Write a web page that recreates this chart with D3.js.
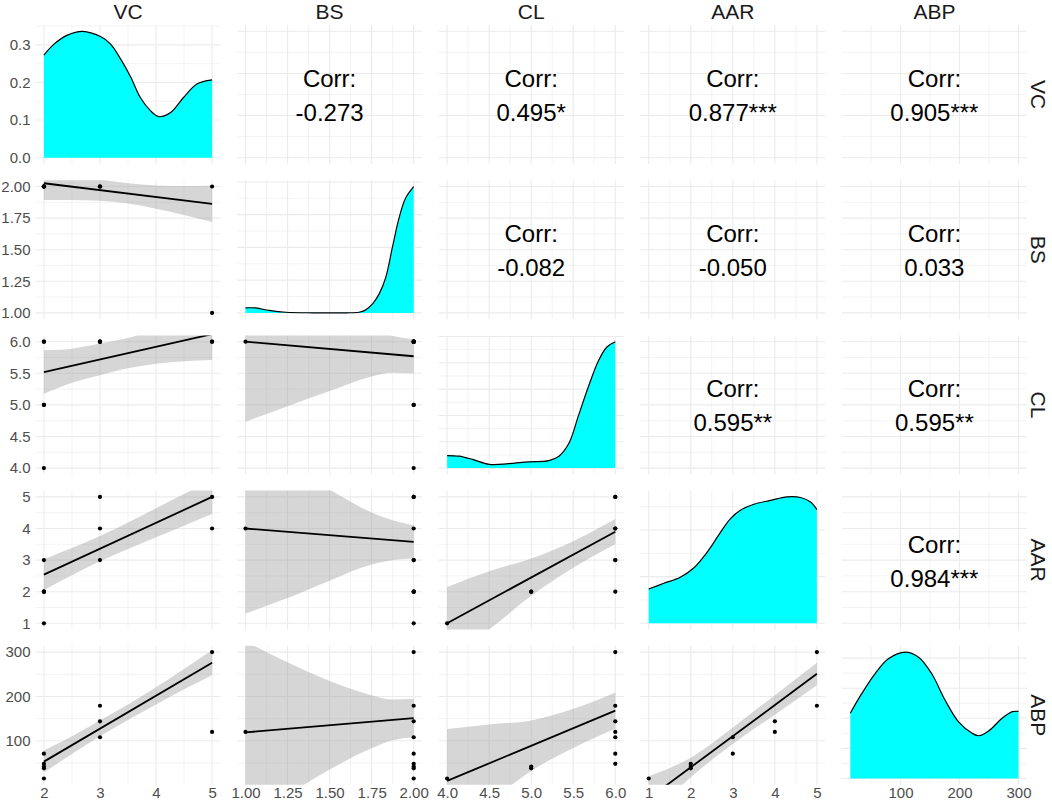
<!DOCTYPE html>
<html>
<head>
<meta charset="utf-8">
<script src="https://cdn.jsdelivr.net/npm/d3@7"></script>
<style>
  body { margin: 0; background: #fff; }
  text { font-family: "Liberation Sans", Arial, sans-serif; }
</style>
</head>
<body>
<svg id="chart" width="1052" height="803"></svg>
<script>
// variables of the pairs plot
const variables = ['VC', 'BS', 'CL', 'AAR', 'ABP'];

// observations, one value per row
const vc  = [5, 5, 3, 3, 3, 2, 2, 2, 2, 2];
const bs  = [2, 1, 2, 2, 2, 2, 2, 2, 2, 2];
const cl  = [6, 6, 6, 6, 6, 6, 6, 5, 4, 5];
const aar = [5, 4, 5, 4, 3, 3, 2, 2, 1, 2];
const abp = [300, 120, 179, 144, 108, 71, 48, 38, 15, 42];

// axis ticks and their labels
const vcTicks = [2, 3, 4, 5];
const vcLabels = ['2', '3', '4', '5'];
const bsTicks = [1, 1.25, 1.5, 1.75, 2];
const bsLabels = ['1.00', '1.25', '1.50', '1.75', '2.00'];
const clTicks = [4, 4.5, 5, 5.5, 6];
const clLabels = ['4.0', '4.5', '5.0', '5.5', '6.0'];
const aarTicks = [1, 2, 3, 4, 5];
const aarLabels = ['1', '2', '3', '4', '5'];
const abpTicks = [100, 200, 300];
const abpLabels = ['100', '200', '300'];

// density curves on the diagonal: [value, density]
const densVC = [[2.0, 0.273], [2.18, 0.302], [2.42, 0.326], [2.69, 0.336], [3.01, 0.322], [3.19, 0.302],
  [3.37, 0.262], [3.55, 0.214], [3.72, 0.160], [3.90, 0.125], [4.05, 0.109], [4.26, 0.120],
  [4.49, 0.160], [4.73, 0.196], [5.0, 0.207]];
const densBS = [[1.0, 0.153], [1.06, 0.150], [1.14, 0.076], [1.24, 0.02], [1.40, 0.002], [1.60, 0.002],
  [1.675, 0.02], [1.71, 0.076], [1.754, 0.267], [1.794, 0.573], [1.833, 1.07], [1.873, 1.99],
  [1.913, 2.90], [1.952, 3.51], [2.0, 3.86]];
const densCL = [[4.0, 0.238], [4.14, 0.226], [4.30, 0.166], [4.50, 0.071], [4.73, 0.083], [4.97, 0.119],
  [5.21, 0.143], [5.33, 0.226], [5.45, 0.475], [5.56, 0.986], [5.68, 1.544], [5.80, 2.04],
  [5.90, 2.30], [6.0, 2.40]];
const densAAR = [[1.0, 0.0735], [1.36, 0.0858], [1.75, 0.0987], [2.07, 0.1185], [2.39, 0.1525],
  [2.71, 0.1954], [2.94, 0.224], [3.18, 0.2424], [3.5, 0.2553], [3.9, 0.2635], [4.29, 0.271],
  [4.61, 0.2697], [4.85, 0.260], [5.0, 0.2438]];
const densABP = [[15, 0.00217], [34, 0.00281], [56.8, 0.00348], [79.5, 0.00398], [108, 0.0042],
  [130.7, 0.00403], [153, 0.00348], [176, 0.00259], [198.9, 0.00187], [221.6, 0.0015],
  [233, 0.00142], [250, 0.00159], [272.7, 0.00201], [289.8, 0.00222], [300, 0.00223]];

// density axis breaks
const densTicksVC = [0, 0.1, 0.2, 0.3];
const densLabelsVC = ['0.0', '0.1', '0.2', '0.3'];
const densTicksBS = [0, 1, 2, 3, 4];
const densTicksCL = [0, 0.5, 1, 1.5, 2, 2.5];
const densTicksAAR = [0, 0.1, 0.2];
const densTicksABP = [0, 0.001, 0.002, 0.003, 0.004];

// correlations in the upper triangle
const corrRows = [0, 0, 0, 0, 1, 1, 1, 2, 2, 3];
const corrCols = [1, 2, 3, 4, 2, 3, 4, 3, 4, 4];
const corrLabels = ['-0.273', '0.495*', '0.877***', '0.905***', '-0.082', '-0.050', '0.033',
  '0.595**', '0.595**', '0.984***'];

// linear fits [x, y] and confidence bands [x, lo, hi] in the lower triangle
const fitBSVC = [[2, 2.026], [5, 1.863]];
const bandBSVC = [[2, 1.894, 2.158], [2.5, 1.894, 2.104], [3, 1.887, 2.057], [3.5, 1.865, 2.025],
  [4, 1.825, 2.009], [4.5, 1.775, 2.005], [5, 1.719, 2.007]];
const fitCLVC = [[2, 5.52], [5, 6.12]];
const bandCLVC = [[2, 5.175, 5.865], [2.5, 5.35, 5.89], [3, 5.47, 5.97], [3.5, 5.58, 6.06],
  [4, 5.65, 6.19], [4.5, 5.69, 6.35], [5, 5.71, 6.53]];
const fitAARVC = [[2, 2.54], [5, 5.0]];
const bandAARVC = [[2, 2.05, 3.03], [2.5, 2.52, 3.38], [3, 2.96, 3.76], [3.5, 3.35, 4.19],
  [4, 3.72, 4.64], [4.5, 4.09, 5.09], [5, 4.46, 5.54]];
const fitABPVC = [[2, 53], [5, 276]];
const bandABPVC = [[2, 29, 78], [2.5, 70, 110], [3, 110, 146], [3.5, 147, 182], [4, 182, 221],
  [4.5, 216, 262], [5, 248, 304]];
const fitCLBS = [[1, 6.0], [2, 5.77]];
const bandCLBS = [[1, 4.735, 7.265], [1.25, 4.98, 6.905], [1.5, 5.22, 6.55], [1.75, 5.45, 6.205],
  [1.875, 5.51, 6.09], [2, 5.50, 6.04]];
const fitAARBS = [[1, 4.0], [2, 3.58]];
const bandAARBS = [[1, 1.31, 6.69], [1.25, 1.80, 5.99], [1.5, 2.35, 5.23], [1.75, 2.86, 4.51],
  [1.875, 3.0, 4.265], [2, 3.06, 4.10]];
const fitABPBS = [[1, 119], [2, 151]];
const bandABPBS = [[1, -86, 324], [1.25, -23, 277], [1.5, 35, 235], [1.75, 83, 203],
  [1.875, 101, 193], [2, 108, 194]];
const fitAARCL = [[4, 1.0], [6, 3.9]];
const bandAARCL = [[4, -0.15, 2.15], [4.5, 0.80, 2.65], [5, 1.87, 3.05], [5.5, 2.76, 3.6], [6, 3.5, 4.3]];
const fitABPCL = [[4, 9.5], [6, 168]];
const bandABPCL = [[4, -107, 126.5], [4.5, -39, 137], [5, 32, 146], [5.5, 84, 172], [6, 127, 209]];
const fitABPAAR = [[1, -30], [5, 251]];
const bandABPAAR = [[1, -72, 20], [2, 18, 62], [3, 93, 130], [4, 159, 203], [5, 225, 276]];

// tables built from the arrays above
const obs = [vc, bs, cl, aar, abp];
const ticks = [vcTicks, bsTicks, clTicks, aarTicks, abpTicks];
const tickLabels = [vcLabels, bsLabels, clLabels, aarLabels, abpLabels];
const dens = [densVC, densBS, densCL, densAAR, densABP];
const densTicks = [densTicksVC, densTicksBS, densTicksCL, densTicksAAR, densTicksABP];
const smooths = {
  '1-0': [fitBSVC, bandBSVC], '2-0': [fitCLVC, bandCLVC], '3-0': [fitAARVC, bandAARVC],
  '4-0': [fitABPVC, bandABPVC], '2-1': [fitCLBS, bandCLBS], '3-1': [fitAARBS, bandAARBS],
  '4-1': [fitABPBS, bandABPBS], '3-2': [fitAARCL, bandAARCL], '4-2': [fitABPCL, bandABPCL],
  '4-3': [fitABPAAR, bandABPAAR]
};

// layout
const left0 = 35.5, top0 = 25, panelW = 185, panelH = 139, stepX = 201.6, stepY = 155.2;
const n = variables.length;
const gridColor = '#ebebeb';

const svg = d3.select('#chart');
const defs = svg.append('defs');

const expand = ([a, b]) => { const d = (b - a) * 0.05; return [a - d, b + d]; };
const within = (v, dom) => v >= dom[0] - 1e-9 && v <= dom[1] + 1e-9;
function gridBreaks(majors, dom) {
  const step = majors[1] - majors[0];
  const minors = [majors[0] - step / 2, ...majors.map(m => m + step / 2)];
  return { major: majors.filter(v => within(v, dom)), minor: minors.filter(v => within(v, dom)) };
}

const colX = variables.map((v, c) => d3.scaleLinear()
  .domain(expand(d3.extent(obs[c])))
  .range([left0 + c * stepX, left0 + c * stepX + panelW]));
const rowY = variables.map((v, r) => d3.scaleLinear()
  .domain(expand(d3.extent(obs[r])))
  .range([top0 + r * stepY + panelH, top0 + r * stepY]));
const densY = variables.map((v, k) => d3.scaleLinear()
  .domain(expand([0, d3.max(dens[k], d => d[1])]))
  .range([top0 + k * stepY + panelH, top0 + k * stepY]));

for (let r = 0; r < n; r++) {
  for (let c = 0; c < n; c++) {
    const x = colX[c];
    const y = r === c ? densY[r] : rowY[r];
    const yTicks = r === c ? densTicks[r] : ticks[r];
    const [x0, x1] = x.range();
    const [y1, y0] = y.range();

    const id = `clip-${r}-${c}`;
    defs.append('clipPath').attr('id', id)
      .append('rect').attr('x', x0).attr('y', y0).attr('width', x1 - x0).attr('height', y1 - y0);

    const panel = svg.append('g');
    const gx = gridBreaks(ticks[c], x.domain());
    const gy = gridBreaks(yTicks, y.domain());

    // minor grid, then major grid
    [['minor', 0.6], ['major', 1.1]].forEach(([kind, w]) => {
      panel.append('g').selectAll('line').data(gx[kind]).join('line')
        .attr('x1', d => x(d)).attr('x2', d => x(d)).attr('y1', y0).attr('y2', y1)
        .attr('stroke', gridColor).attr('stroke-width', w);
      panel.append('g').selectAll('line').data(gy[kind]).join('line')
        .attr('y1', d => y(d)).attr('y2', d => y(d)).attr('x1', x0).attr('x2', x1)
        .attr('stroke', gridColor).attr('stroke-width', w);
    });

    const content = panel.append('g').attr('clip-path', `url(#${id})`);

    if (r === c) {
      const curve = d3.curveCatmullRom.alpha(0.5);
      const area = d3.area().x(d => x(d[0])).y0(y(0)).y1(d => y(d[1])).curve(curve);
      const line = d3.line().x(d => x(d[0])).y(d => y(d[1])).curve(curve);
      content.append('path').datum(dens[r]).attr('d', area).attr('fill', '#00ffff');
      content.append('path').datum(dens[r]).attr('d', line)
        .attr('fill', 'none').attr('stroke', '#000').attr('stroke-width', 1.2);
    } else if (r > c) {
      const [fit, band] = smooths[`${r}-${c}`];
      content.append('path').datum(band)
        .attr('d', d3.area().x(d => x(d[0])).y0(d => y(d[1])).y1(d => y(d[2])).curve(d3.curveMonotoneX))
        .attr('fill', '#999999').attr('fill-opacity', 0.4);
      content.append('path').datum(fit)
        .attr('d', d3.line().x(d => x(d[0])).y(d => y(d[1])))
        .attr('stroke', '#000').attr('stroke-width', 1.8).attr('fill', 'none');
      content.append('g').selectAll('circle').data(obs[c].map((v, i) => [v, obs[r][i]])).join('circle')
        .attr('cx', d => x(d[0])).attr('cy', d => y(d[1])).attr('r', 2.1).attr('fill', '#000');
    }
  }
}

// correlation text
corrLabels.forEach((label, i) => {
  const [xa, xb] = colX[corrCols[i]].range();
  const [ya, yb] = rowY[corrRows[i]].range();
  const cx = (xa + xb) / 2, cy = (ya + yb) / 2;
  const g = svg.append('g').attr('font-size', 24).attr('fill', '#000').attr('text-anchor', 'middle');
  g.append('text').attr('x', cx).attr('y', cy - 16).attr('dominant-baseline', 'central').text('Corr:');
  g.append('text').attr('x', cx).attr('y', cy + 18).attr('dominant-baseline', 'central').text(label);
});

// left axes
for (let r = 0; r < n; r++) {
  const scale = r === 0 ? densY[0] : rowY[r];
  const tv = r === 0 ? densTicksVC : ticks[r];
  const tl = r === 0 ? densLabelsVC : tickLabels[r];
  svg.append('g')
    .attr('transform', `translate(${left0},0)`)
    .call(d3.axisLeft(scale).tickValues(tv).tickFormat((d, i) => tl[i]).tickSize(0).tickPadding(5))
    .call(g => g.select('.domain').remove())
    .attr('font-size', 15).attr('font-family', null).style('color', '#4d4d4d');
}

// bottom axes
const bottom = top0 + (n - 1) * stepY + panelH;
for (let c = 0; c < n; c++) {
  svg.append('g')
    .attr('transform', `translate(0,${bottom})`)
    .call(d3.axisBottom(colX[c]).tickValues(ticks[c]).tickFormat((d, i) => tickLabels[c][i]).tickSize(0).tickPadding(3))
    .call(g => g.select('.domain').remove())
    .attr('font-size', 15).attr('font-family', null).style('color', '#4d4d4d');
}

// strip labels
variables.forEach((v, k) => {
  const [xa, xb] = colX[k].range();
  svg.append('text').attr('x', (xa + xb) / 2).attr('y', 18.5).attr('text-anchor', 'middle')
    .attr('font-size', 21).attr('fill', '#1a1a1a').text(v);
  const [ya, yb] = rowY[k].range();
  svg.append('text').attr('transform', `translate(1031,${(ya + yb) / 2}) rotate(90)`)
    .attr('text-anchor', 'middle').attr('font-size', 21).attr('fill', '#1a1a1a').text(v);
});
</script>
</body>
</html>
